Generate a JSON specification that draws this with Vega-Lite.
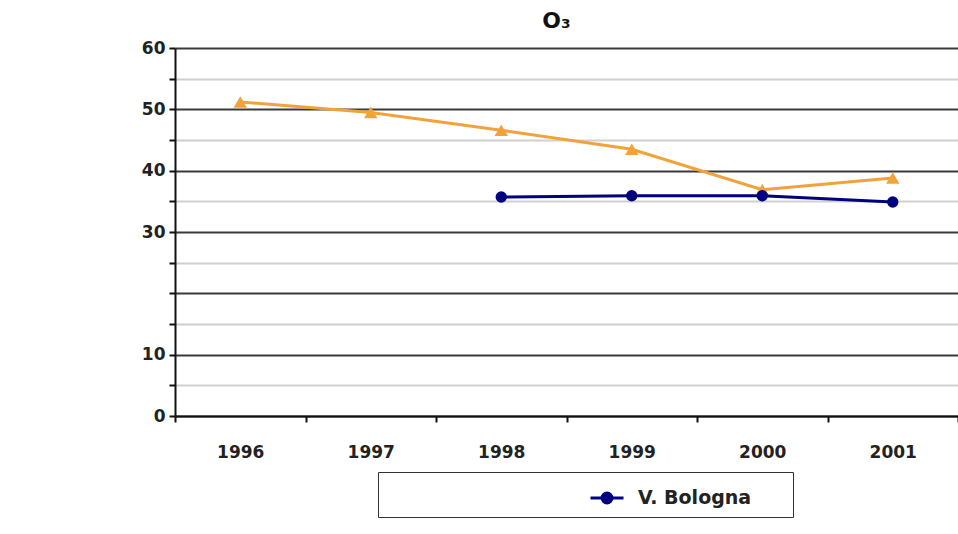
{
  "$schema": "https://vega.github.io/schema/vega-lite/v6.json",
  "width": 783,
  "height": 368,
  "autosize": {"type": "none"},
  "padding": {"left": 175, "top": 48, "right": 0, "bottom": 118},
  "background": "white",
  "title": {
    "text": "O₃",
    "font": "DejaVu Sans",
    "fontSize": 22,
    "fontWeight": "bold",
    "color": "#111111",
    "anchor": "middle",
    "frame": "group",
    "offset": 6,
    "dx": -10
  },
  "data": {
    "values": [
      {"year": "1996", "station": "Serie 2", "value": 51.2},
      {"year": "1997", "station": "Serie 2", "value": 49.5},
      {"year": "1998", "station": "Serie 2", "value": 46.6},
      {"year": "1999", "station": "Serie 2", "value": 43.5},
      {"year": "2000", "station": "Serie 2", "value": 36.9},
      {"year": "2001", "station": "Serie 2", "value": 38.8},
      {"year": "1998", "station": "V. Bologna", "value": 35.7},
      {"year": "1999", "station": "V. Bologna", "value": 35.9},
      {"year": "2000", "station": "V. Bologna", "value": 35.9},
      {"year": "2001", "station": "V. Bologna", "value": 34.9}
    ]
  },
  "config": {
    "view": {"stroke": null},
    "axis": {"labelFont": "DejaVu Sans", "labelFontWeight": "bold", "labelColor": "#222222", "labelFontSize": 17}
  },
  "encoding": {
    "x": {
      "field": "year",
      "type": "ordinal",
      "scale": {"type": "band", "paddingInner": 0, "paddingOuter": 0},
      "axis": {
        "title": null,
        "grid": false,
        "tickBand": "extent",
        "domainColor": "#111111",
        "domainWidth": 2,
        "tickColor": "#111111",
        "tickWidth": 2,
        "tickSize": 6,
        "labelAngle": 0,
        "labelPadding": 22
      }
    },
    "y": {
      "field": "value",
      "type": "quantitative",
      "scale": {"domain": [0, 60], "nice": false},
      "axis": {
        "title": null,
        "values": [0, 5, 10, 15, 20, 25, 30, 35, 40, 45, 50, 55, 60],
        "grid": true,
        "gridColor": {"condition": {"test": "datum.value % 10 === 0", "value": "#3a3a3a"}, "value": "#d0d0d0"},
        "gridWidth": 2,
        "domainColor": "#111111",
        "domainWidth": 2,
        "tickColor": "#111111",
        "tickWidth": 2,
        "tickSize": 6,
        "labelPadding": 4,
        "labelExpr": "datum.value % 10 === 0 && datum.value !== 20 ? datum.label : ''"
      }
    }
  },
  "layer": [
    {
      "transform": [{"filter": "datum.station === 'Serie 2'"}],
      "mark": {"type": "line", "color": "#F2A23A", "strokeWidth": 3}
    },
    {
      "transform": [{"filter": "datum.station === 'Serie 2'"}],
      "mark": {"type": "point", "shape": "triangle-up", "filled": true, "color": "#F2A23A", "size": 180, "opacity": 1}
    },
    {
      "transform": [{"filter": "datum.station === 'V. Bologna'"}],
      "mark": {"type": "line", "strokeWidth": 3},
      "encoding": {
        "color": {
          "field": "station",
          "type": "nominal",
          "scale": {"domain": ["V. Bologna"], "range": ["#000080"]},
          "legend": {
            "orient": "none",
            "legendX": 203,
            "legendY": 424,
            "title": "\u200b\u00a0\u00a0\u00a0\u00a0\u00a0\u00a0\u00a0\u00a0\u00a0\u00a0\u00a0\u00a0\u00a0\u00a0\u00a0\u00a0\u00a0\u00a0\u00a0\u00a0\u00a0\u00a0\u00a0\u00a0\u00a0\u00a0\u00a0\u00a0\u00a0\u00a0\u00a0\u00a0\u00a0\u200b",
            "titleOrient": "left",
            "titleLimit": 400,
            "titleFont": "DejaVu Sans",
            "titleFontSize": 19,
            "titleFontWeight": "normal",
            "titlePadding": 3,
            "labelFont": "DejaVu Sans",
            "labelFontSize": 19,
            "labelFontWeight": "bold",
            "labelColor": "#222222",
            "labelOffset": 13,
            "labelLimit": 400,
            "labelExpr": "datum.label + '\u00a0\u00a0\u00a0\u00a0\u00a0\u200b'",
            "strokeColor": "#333333",
            "padding": 8,
            "symbolType": "M-1,0H1M-0.3,0A0.3,0.3 0 1,1 0.3,0A0.3,0.3 0 1,1 -0.3,0Z",
            "symbolSize": 1089,
            "symbolStrokeWidth": 3,
            "symbolFillColor": "#000080",
            "symbolStrokeColor": "#000080"
          }
        }
      }
    },
    {
      "transform": [{"filter": "datum.station === 'V. Bologna'"}],
      "mark": {"type": "point", "shape": "circle", "filled": true, "size": 130, "opacity": 1},
      "encoding": {
        "color": {"field": "station", "type": "nominal"}
      }
    }
  ]
}
